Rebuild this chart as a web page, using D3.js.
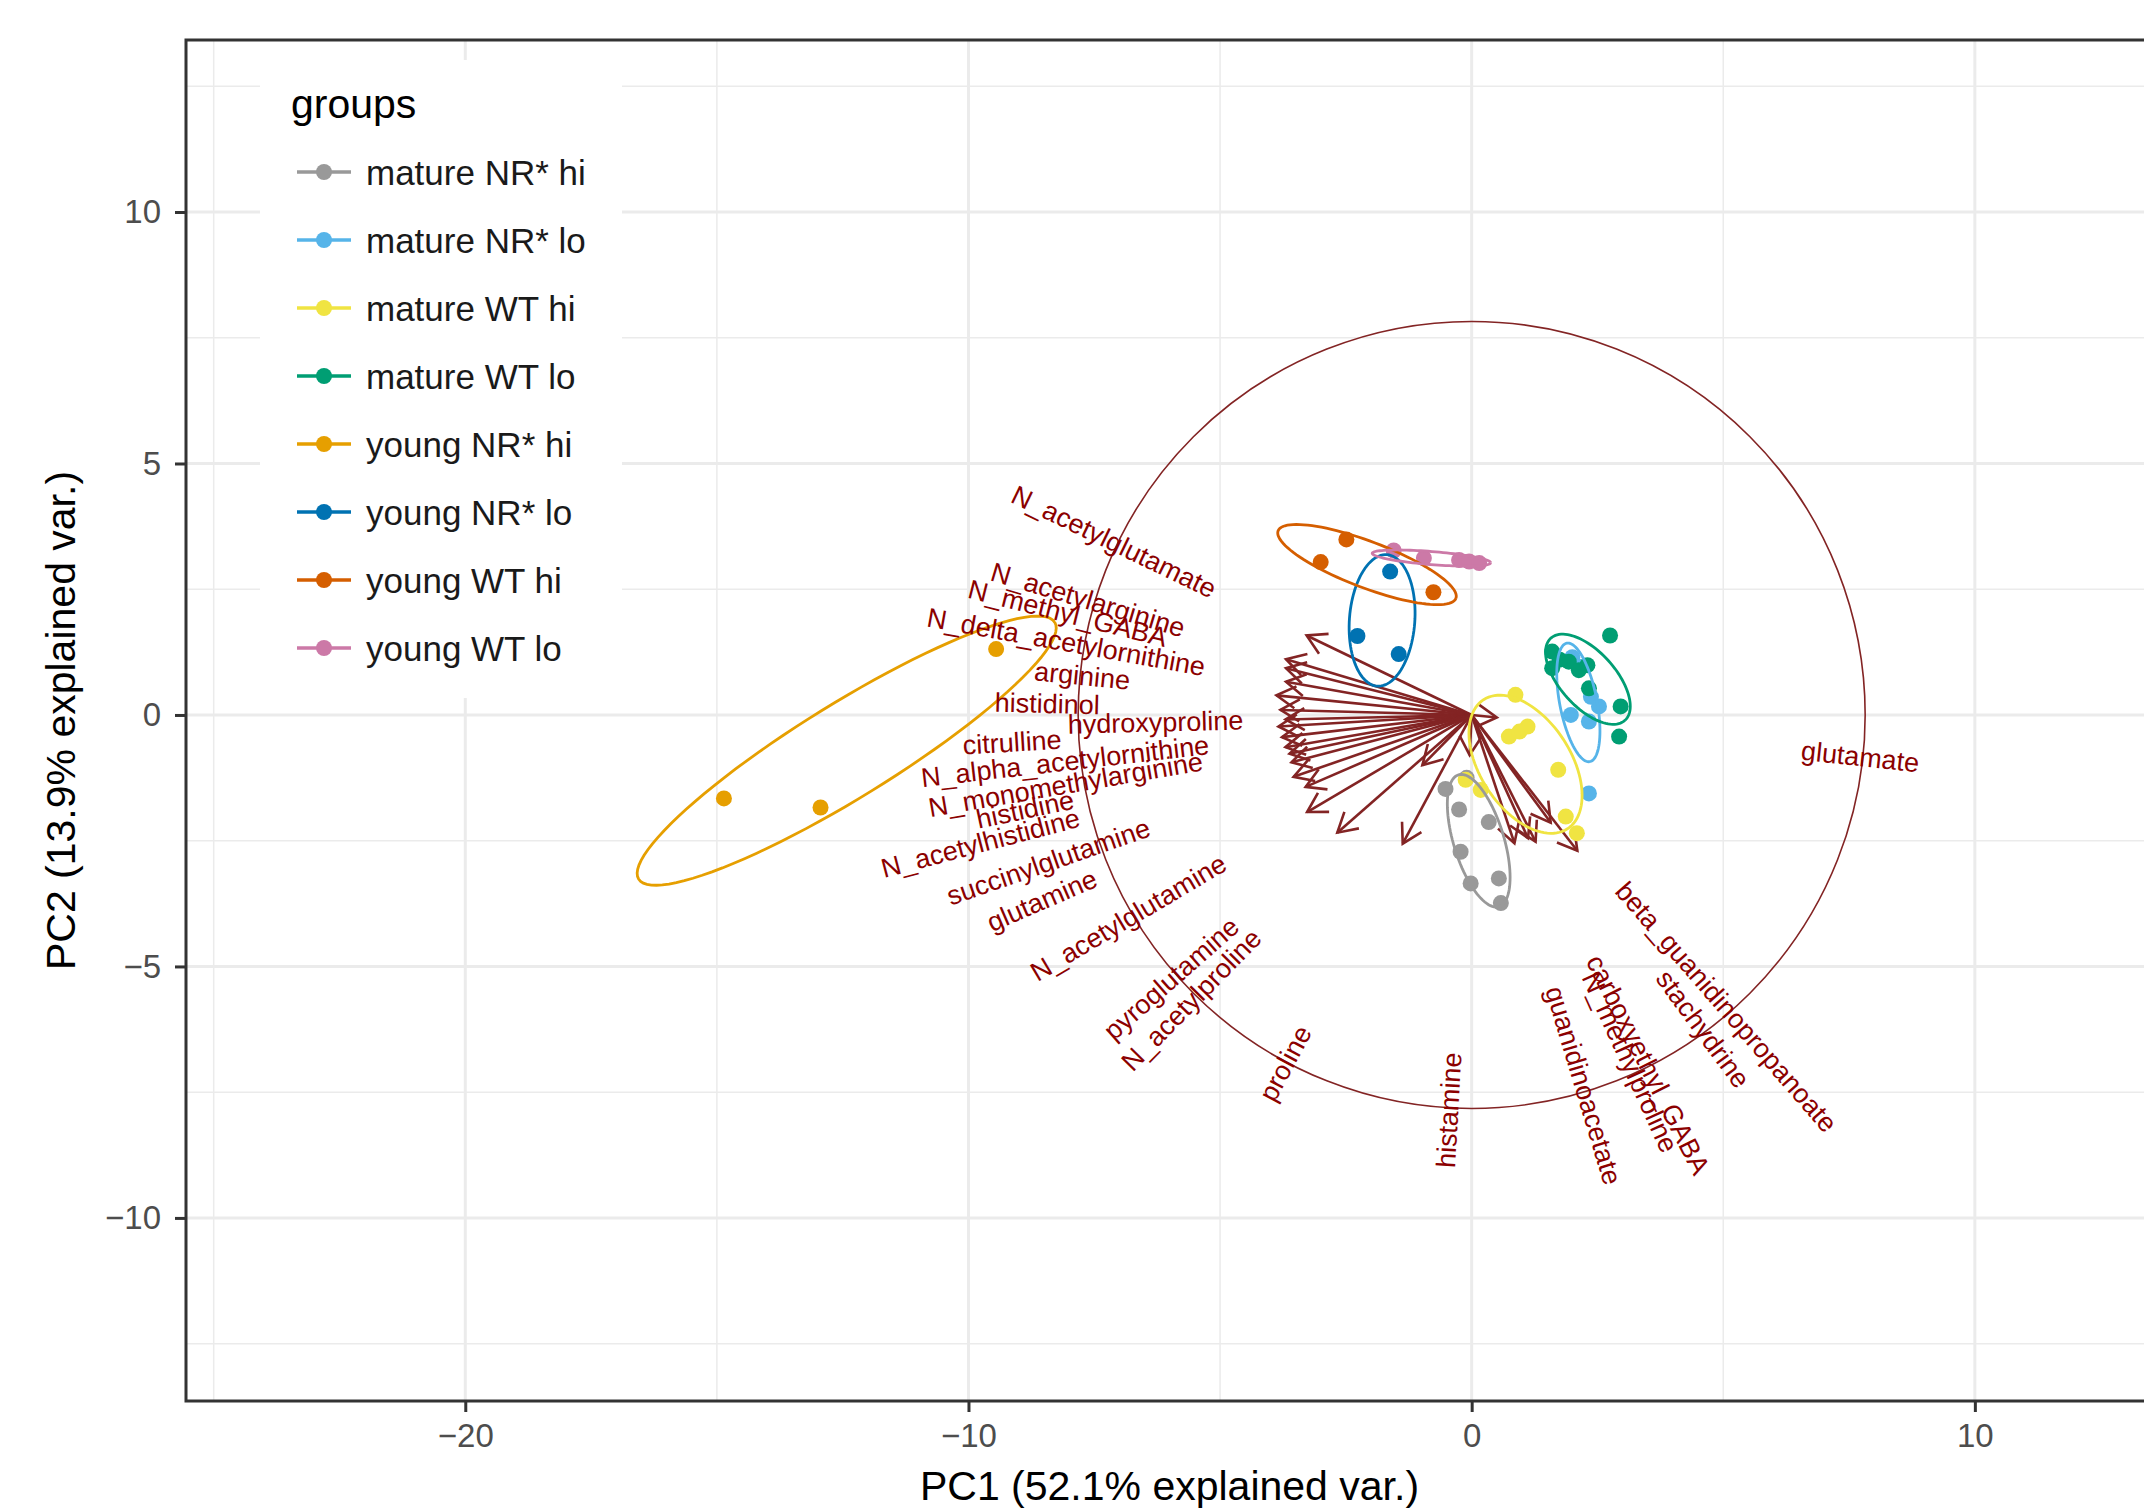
<!DOCTYPE html>
<html>
<head>
<meta charset="utf-8">
<title>PCA biplot</title>
<script src="https://d3js.org/d3.v7.min.js"></script>
<style>
  html, body { margin: 0; padding: 0; background: #ffffff; }
  text { font-family: "Liberation Sans", Arial, Helvetica, sans-serif; }
</style>
</head>
<body>
<div id="chart"></div>
<script>
// ---- data ----
const groups = ["mature NR* hi", "mature NR* lo", "mature WT hi", "mature WT lo",
                "young NR* hi", "young NR* lo", "young WT hi", "young WT lo"];
const groupColors = ["#999999", "#56B4E9", "#F0E442", "#009E73",
                     "#E69F00", "#0072B2", "#D55E00", "#CC79A7"];

// sample scores (group index, PC1, PC2)
const pointGroup = [0,0,0,0,0,0,0,0,
                    1,1,1,1,1,1,1,
                    2,2,2,2,2,2,2,2,2,
                    3,3,3,3,3,3,3,3,3,3,
                    4,4,4,
                    5,5,5,
                    6,6,6,
                    7,7,7,7,7];
const pointX = [-0.52,-0.10,-0.25,0.34,-0.22,-0.02,0.54,0.58,
                2.37,2.53,1.97,2.33,2.13,2.33,2.00,
                0.87,0.74,1.11,0.95,1.72,1.87,2.09,-0.12,0.18,
                2.75,2.96,2.93,1.60,1.93,2.13,2.30,2.33,1.60,1.75,
                -14.86,-12.94,-9.45,
                -1.62,-2.27,-1.45,
                -2.49,-3.00,-0.76,
                -1.55,-0.95,-0.25,-0.05,0.15];
const pointY = [-1.47,-1.25,-1.88,-2.13,-2.72,-3.35,-3.25,-3.74,
                0.36,0.17,0.00,-0.13,0.96,-1.56,1.15,
                0.40,-0.43,-0.23,-0.33,-1.09,-2.02,-2.35,-1.29,-1.49,
                1.58,0.17,-0.43,1.26,1.06,0.89,0.99,0.53,0.93,1.10,
                -1.66,-1.84,1.31,
                2.85,1.57,1.21,
                3.49,3.04,2.44,
                3.27,3.12,3.08,3.05,3.02];

// 68% normal ellipses per group: centre, semi-axes, angle (deg)
const ellCx    = [0.14, 2.12, 1.07, 2.31, -12.42, -1.78, -2.08, -0.80];
const ellCy    = [-2.50, 0.25, -0.98, 0.71, -0.71, 1.88, 2.99, 3.12];
const ellA     = [1.37, 1.20, 1.53, 1.10, 4.86, 1.31, 1.89, 1.18];
const ellB     = [0.50, 0.37, 0.90, 0.55, 0.94, 0.65, 0.46, 0.13];
const ellAngle = [-73, -79, -57, -48, 31.7, 85.8, -20.8, -4.6];

// variable loadings (arrow tips) and label anchor points
const varNames = ["N_acetylglutamate","N_acetylarginine","N_methyl_GABA","N_delta_acetylornithine",
  "arginine","histidinol","hydroxyproline","citrulline","N_alpha_acetylornithine",
  "N_monomethylarginine","histidine","N_acetylhistidine","succinylglutamine","glutamine",
  "N_acetylglutamine","pyroglutamine","N_acetylproline","proline","histamine",
  "guanidinoacetate","N_methylproline","carboxyethyl_GABA","stachydrine",
  "beta_guanidinopropanoate","glutamate"];
const varX = [-3.28,-3.69,-3.69,-3.69,-3.88,-3.80,-3.70,-3.84,-3.77,-3.70,-3.62,-3.58,-3.54,-3.30,
              -3.27,-2.67,-0.98,-1.37,-0.04,0.85,1.12,1.27,1.57,2.10,0.50];
const varY = [1.58,1.11,0.93,0.66,0.39,0.10,-0.09,-0.23,-0.44,-0.64,-0.77,-0.94,-1.23,-1.43,
              -1.93,-2.34,-1.00,-2.56,-0.80,-2.55,-2.45,-2.52,-2.14,-2.70,-0.05];
const labelX = [-5.11,-5.71,-6.06,-5.30,-6.79,-7.39,-4.54,-8.15,-5.22,-5.35,-7.91,-7.80,-6.41,-7.47,
                -4.92,-4.70,-4.27,-3.32,-0.38,1.63,2.34,2.42,3.78,2.96,6.55];
const labelY = [2.47,1.71,1.52,0.95,0.68,0.19,-0.11,-0.49,-0.60,-0.92,-1.68,-2.04,-2.23,-3.23,
                -2.91,-4.13,-4.35,-6.22,-6.71,-5.41,-5.14,-4.81,-5.14,-3.40,-0.71];
const circleRadius = 7.82;

const xTicks = [-20, -10, 0, 10];
const yTicks = [-10, -5, 0, 5, 10];
const xMinor = [-25, -15, -5, 5];
const yMinor = [-12.5, -7.5, -2.5, 2.5, 7.5, 12.5];

// ---- layout ----
const width = 2144, height = 1512;
const panel = { left: 186, top: 40, right: 2153, bottom: 1401 };

const svg = d3.select("#chart").append("svg")
  .attr("width", width).attr("height", height);

const x = d3.scaleLinear().domain([-25.55, 13.54]).range([panel.left, panel.right]);
const y = d3.scaleLinear().domain([-13.64, 13.42]).range([panel.bottom, panel.top]);

svg.append("defs").append("clipPath").attr("id", "clip")
  .append("rect")
  .attr("x", panel.left).attr("y", panel.top)
  .attr("width", panel.right - panel.left).attr("height", panel.bottom - panel.top);

const g = svg.append("g").attr("clip-path", "url(#clip)");

// grid
g.selectAll(".xminor").data(xMinor).enter().append("line")
  .attr("x1", d => x(d)).attr("x2", d => x(d))
  .attr("y1", panel.top).attr("y2", panel.bottom)
  .attr("stroke", "#EBEBEB").attr("stroke-width", 1.5);
g.selectAll(".yminor").data(yMinor).enter().append("line")
  .attr("y1", d => y(d)).attr("y2", d => y(d))
  .attr("x1", panel.left).attr("x2", panel.right)
  .attr("stroke", "#EBEBEB").attr("stroke-width", 1.5);
g.selectAll(".xmajor").data(xTicks).enter().append("line")
  .attr("x1", d => x(d)).attr("x2", d => x(d))
  .attr("y1", panel.top).attr("y2", panel.bottom)
  .attr("stroke", "#EBEBEB").attr("stroke-width", 3);
g.selectAll(".ymajor").data(yTicks).enter().append("line")
  .attr("y1", d => y(d)).attr("y2", d => y(d))
  .attr("x1", panel.left).attr("x2", panel.right)
  .attr("stroke", "#EBEBEB").attr("stroke-width", 3);

// correlation circle
g.append("circle")
  .attr("cx", x(0)).attr("cy", y(0))
  .attr("r", x(circleRadius) - x(0))
  .attr("fill", "none").attr("stroke", "#832424").attr("stroke-width", 1.6);

// arrows
const arrowCol = "#832424";
const headLen = 22, headAng = Math.PI / 6;
varNames.forEach((name, i) => {
  const x0 = x(0), y0 = y(0), x1 = x(varX[i]), y1 = y(varY[i]);
  g.append("line")
    .attr("x1", x0).attr("y1", y0).attr("x2", x1).attr("y2", y1)
    .attr("stroke", arrowCol).attr("stroke-width", 2.6);
  const a = Math.atan2(y1 - y0, x1 - x0);
  const p1 = [x1 - headLen * Math.cos(a - headAng), y1 - headLen * Math.sin(a - headAng)];
  const p2 = [x1 - headLen * Math.cos(a + headAng), y1 - headLen * Math.sin(a + headAng)];
  g.append("path")
    .attr("d", d3.line()([p1, [x1, y1], p2]))
    .attr("fill", "none").attr("stroke", arrowCol).attr("stroke-width", 2.6);
});

// points
g.selectAll(".pt").data(pointX).enter().append("circle")
  .attr("cx", (d, i) => x(pointX[i]))
  .attr("cy", (d, i) => y(pointY[i]))
  .attr("r", 8)
  .attr("fill", (d, i) => groupColors[pointGroup[i]]);

// ellipses
const ellLine = d3.line();
groups.forEach((grp, k) => {
  const th = ellAngle[k] * Math.PI / 180;
  const pts = d3.range(0, 101).map(j => {
    const t = j / 100 * 2 * Math.PI;
    const ex = ellA[k] * Math.cos(t), ey = ellB[k] * Math.sin(t);
    return [x(ellCx[k] + ex * Math.cos(th) - ey * Math.sin(th)),
            y(ellCy[k] + ex * Math.sin(th) + ey * Math.cos(th))];
  });
  g.append("path").attr("d", ellLine(pts))
    .attr("fill", "none").attr("stroke", groupColors[k]).attr("stroke-width", 2.8);
});

// variable labels
varNames.forEach((name, i) => {
  const lx = labelX[i], ly = labelY[i];
  const ang = Math.atan(ly / lx) * 180 / Math.PI;
  g.append("text")
    .attr("transform", `translate(${x(lx)},${y(ly)}) rotate(${-ang})`)
    .attr("text-anchor", lx < 0 ? "end" : "start")
    .attr("dominant-baseline", "central")
    .attr("font-size", 27)
    .attr("fill", "#8B0000")
    .text(name);
});

// panel border
svg.append("rect")
  .attr("x", panel.left).attr("y", panel.top)
  .attr("width", panel.right - panel.left).attr("height", panel.bottom - panel.top)
  .attr("fill", "none").attr("stroke", "#333333").attr("stroke-width", 3);

// axes
const xAxis = svg.append("g")
  .attr("transform", `translate(0,${panel.bottom})`)
  .call(d3.axisBottom(x).tickValues(xTicks).tickSize(11).tickPadding(12));
const yAxis = svg.append("g")
  .attr("transform", `translate(${panel.left},0)`)
  .call(d3.axisLeft(y).tickValues(yTicks).tickSize(11).tickPadding(14));
[xAxis, yAxis].forEach(ax => {
  ax.select(".domain").remove();
  ax.selectAll(".tick line").attr("stroke", "#333333").attr("stroke-width", 3);
  ax.selectAll(".tick text").attr("fill", "#4D4D4D").attr("font-size", 33)
    .attr("font-family", "Liberation Sans, Arial, sans-serif");
});

svg.append("text")
  .attr("x", (panel.left + panel.right) / 2).attr("y", 1500)
  .attr("text-anchor", "middle").attr("font-size", 41).attr("fill", "#000")
  .text("PC1 (52.1% explained var.)");
svg.append("text")
  .attr("transform", `translate(61,${(panel.top + panel.bottom) / 2}) rotate(-90)`)
  .attr("text-anchor", "middle").attr("dominant-baseline", "central")
  .attr("font-size", 41).attr("fill", "#000")
  .text("PC2 (13.9% explained var.)");

// legend
const legend = svg.append("g");
legend.append("rect")
  .attr("x", 260).attr("y", 60).attr("width", 362).attr("height", 638)
  .attr("fill", "#ffffff");
legend.append("text")
  .attr("x", 291).attr("y", 118)
  .attr("font-size", 41).attr("fill", "#000")
  .text("groups");
const item = legend.selectAll(".item").data(groups).enter().append("g")
  .attr("transform", (d, i) => `translate(0,${172 + i * 68})`);
item.append("line")
  .attr("x1", 297).attr("x2", 351).attr("y1", 0).attr("y2", 0)
  .attr("stroke", (d, i) => groupColors[i]).attr("stroke-width", 3.5);
item.append("circle")
  .attr("cx", 324).attr("cy", 0).attr("r", 8)
  .attr("fill", (d, i) => groupColors[i]);
item.append("text")
  .attr("x", 366).attr("y", 0)
  .attr("dominant-baseline", "central")
  .attr("font-size", 35).attr("fill", "#1a1a1a")
  .text(d => d);
</script>
</body>
</html>
